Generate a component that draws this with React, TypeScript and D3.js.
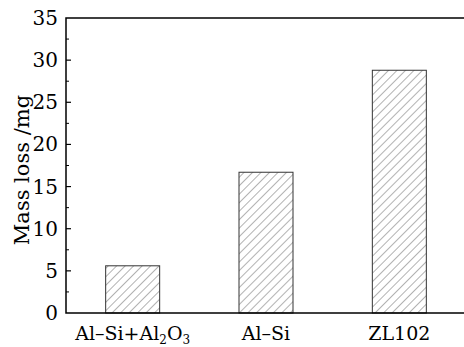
import React, { useRef, useEffect } from "react";
import * as d3 from "d3";

const categories = ["Al-Si+Al2O3", "Al-Si", "ZL102"];
const massLoss = [5.6, 16.7, 28.8];
const yTicks = [0, 5, 10, 15, 20, 25, 30, 35];

function App() {
  const svgRef = useRef<SVGSVGElement>(null);

  useEffect(() => {
    const width = 464;
    const height = 347;
    const margin = { top: 18, right: -2, bottom: 34, left: 66 };
    const svg = d3.select(svgRef.current);
    svg.selectAll("*").remove();
    svg.attr("width", width).attr("height", height);

    const font = "'DejaVu Serif', 'Liberation Serif', 'Times New Roman', serif";

    const x = d3
      .scaleBand()
      .domain(categories)
      .range([margin.left, width - margin.right])
      .paddingInner(0.595)
      .paddingOuter(0.2975);

    const y = d3
      .scaleLinear()
      .domain([0, 35])
      .range([height - margin.bottom, margin.top]);

    const defs = svg.append("defs");
    const pat = defs
      .append("pattern")
      .attr("id", "hatch")
      .attr("patternUnits", "userSpaceOnUse")
      .attr("width", 6)
      .attr("height", 6)
      .attr("patternTransform", "rotate(45)");
    pat
      .append("line")
      .attr("x1", 0)
      .attr("y1", 0)
      .attr("x2", 0)
      .attr("y2", 6)
      .attr("stroke", "#555")
      .attr("stroke-width", 0.9);

    const data = categories.map((c, i) => ({ c, v: massLoss[i] }));

    svg
      .selectAll("rect.bar")
      .data(data)
      .enter()
      .append("rect")
      .attr("class", "bar")
      .attr("x", (d) => x(d.c)!)
      .attr("y", (d) => y(d.v))
      .attr("width", x.bandwidth())
      .attr("height", (d) => y(0) - y(d.v))
      .attr("fill", "url(#hatch)")
      .attr("stroke", "#333")
      .attr("stroke-width", 1);

    // frame
    const x0 = margin.left;
    const x1 = width - margin.right;
    svg
      .append("path")
      .attr("d", `M${x1},${y(35)}H${x0}V${y(0)}H${x1}`)
      .attr("fill", "none")
      .attr("stroke", "#000")
      .attr("stroke-width", 1.5);

    // y ticks (inward)
    const minor = d3.range(2.5, 35, 5);
    svg
      .selectAll("line.major")
      .data(yTicks.filter((t) => t > 0 && t < 35))
      .enter()
      .append("line")
      .attr("x1", x0)
      .attr("x2", x0 + 5)
      .attr("y1", (d) => y(d))
      .attr("y2", (d) => y(d))
      .attr("stroke", "#000")
      .attr("stroke-width", 1.2);
    svg
      .selectAll("line.minor")
      .data(minor)
      .enter()
      .append("line")
      .attr("x1", x0)
      .attr("x2", x0 + 3)
      .attr("y1", (d) => y(d))
      .attr("y2", (d) => y(d))
      .attr("stroke", "#000")
      .attr("stroke-width", 1);

    svg
      .selectAll("text.ytick")
      .data(yTicks)
      .enter()
      .append("text")
      .attr("x", x0 - 8)
      .attr("y", (d) => y(d))
      .attr("dy", "0.35em")
      .attr("text-anchor", "end")
      .style("font-family", font)
      .style("font-size", "20px")
      .text((d) => d);

    // x labels
    const xl = svg
      .selectAll("text.xtick")
      .data(categories)
      .enter()
      .append("text")
      .attr("x", (d) => x(d)! + x.bandwidth() / 2)
      .attr("y", 340)
      .attr("text-anchor", "middle")
      .style("font-family", font)
      .style("font-size", "19px");
    xl.each(function (d) {
      const t = d3.select(this);
      if (d === "Al-Si+Al2O3") {
        t.append("tspan").text("Al\u2013Si+Al");
        t.append("tspan").style("font-size", "12px").attr("dy", 4).text("2");
        t.append("tspan").attr("dy", -4).text("O");
        t.append("tspan").style("font-size", "12px").attr("dy", 4).text("3");
      } else {
        t.text(d.replace("-", "\u2013"));
      }
    });

    svg
      .append("text")
      .attr("transform", `translate(29,170) rotate(-90)`)
      .attr("text-anchor", "middle")
      .style("font-family", font)
      .style("font-size", "21px")
      .text("Mass loss /mg");
  }, []);

  return (
    <svg
      ref={svgRef}
      style={{ position: "absolute", left: 0, top: 0, background: "#fff" }}
    ></svg>
  );
}

export default App;
